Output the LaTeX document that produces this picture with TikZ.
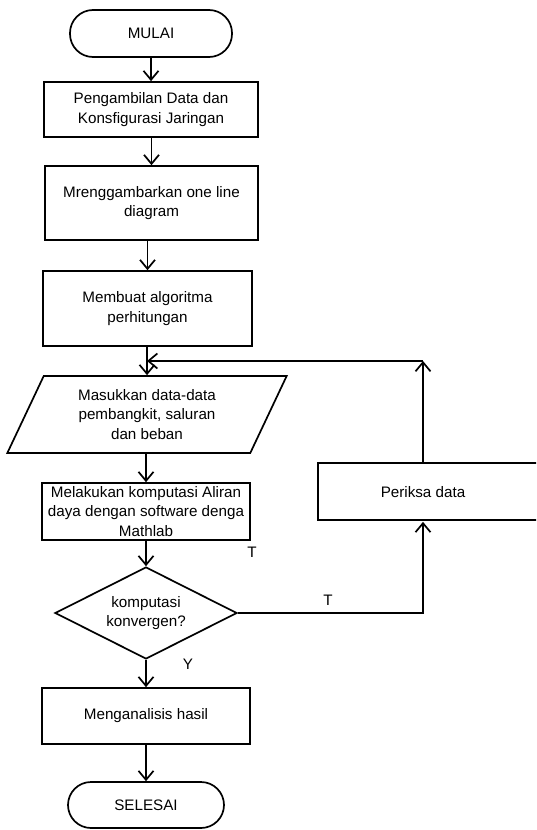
\documentclass[tikz,border=0pt]{standalone}
\usepackage{fontspec}
\setmainfont{Liberation Sans}
\usetikzlibrary{shapes.geometric,arrows.meta}

\tikzset{
    box/.style={draw, rectangle, align=center, inner sep=0pt},
    term/.style={draw, rectangle, rounded corners=23pt, inner sep=0pt},
    arr/.style={-{Straight Barb[length=9pt,width=15pt]}},
}

\begin{document}
\begin{tikzpicture}[x=1pt, y=-1pt, line width=1.7pt, font=\fontsize{15.2}{19.3}\selectfont]
    \clip (0,0) rectangle (536,830);

    \node[term, minimum width=162pt, minimum height=47pt] (mulai) at (151,33.5) {MULAI};
    \node[box, minimum width=214pt, minimum height=55pt] (ambil) at (151,109.5) {Pengambilan Data dan\\Konsfigurasi Jaringan};
    \node[box, minimum width=213pt, minimum height=74pt] (gambar) at (151.5,203) {Mrenggambarkan one line\\diagram};
    \node[box, minimum width=209pt, minimum height=75pt] (algo) at (147.5,308.5) {Membuat algoritma\\perhitungan};
    \node[draw, trapezium, trapezium left angle=64, trapezium right angle=116, trapezium stretches=true,
          minimum width=280pt, minimum height=77pt, inner sep=0pt, align=center] (input) at (147,414.5)
          {Masukkan data-data\\pembangkit, saluran\\dan beban};
    \node[box, minimum width=208pt, minimum height=57pt] (komp) at (146,511.5) {Melakukan komputasi Aliran\\daya dengan software denga\\Mathlab};
    \node[draw, diamond, aspect=2, minimum width=182pt, minimum height=92pt, inner sep=0pt, align=center] (konv) at (146,613) {komputasi\\konvergen?};
    \node[box, minimum width=208pt, minimum height=56pt] (hasil) at (146,716) {Menganalisis hasil};
    \node[term, minimum width=156pt, minimum height=46pt] (selesai) at (146,805) {SELESAI};

    % kotak periksa (terpotong di tepi kanan)
    \node[minimum width=208pt, minimum height=57pt, inner sep=0pt] (periksa) at (423,492.5) {Periksa data};
    \draw (periksa.north west) rectangle ++(260,57);

    \foreach \a/\b in {mulai/ambil, ambil/gambar, gambar/algo, algo/input, input/komp, komp/konv, konv/hasil, hasil/selesai} {
        \draw[arr] (\b.north |- \a.south) -- (\b.north);
    }

    \draw[arr] (konv.east) -| (periksa.south);
    \coordinate (balik) at (423,361);
    \draw[arr] (periksa.north) -- (balik);
    \draw[arr] (balik) -- (balik -| input.north);

    \node (t1) at (252,552) {T};
    \node (t2) at (328,600) {T};
    \node (y) at (188,664) {Y};
\end{tikzpicture}
\end{document}
